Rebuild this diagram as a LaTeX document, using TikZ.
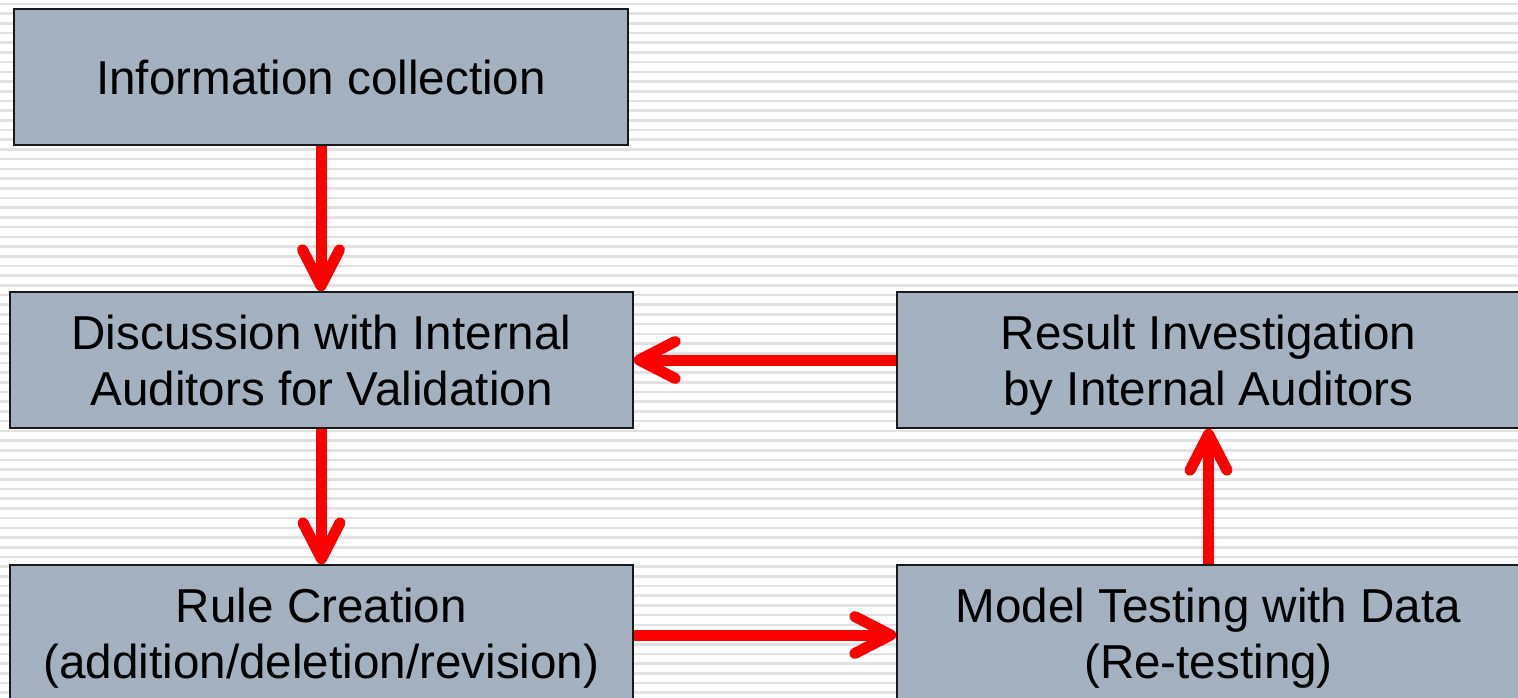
\documentclass[tikz,border=0pt]{standalone}
\usepackage{fontspec}
\setmainfont{Liberation Sans}
\usetikzlibrary{arrows.meta}
\definecolor{boxfill}{HTML}{A3B1C1}
\definecolor{stripe}{HTML}{E2E2E2}
\definecolor{arrred}{HTML}{FF0000}
\tikzset{
  box/.style={draw=black!90, line width=1.5pt, fill=boxfill, rectangle,
    minimum width=623pt, minimum height=136pt, align=center, inner sep=0pt,
    font=\fontsize{47.6}{56}\selectfont},
  flow/.style={draw=arrred, line width=11pt,
    -{Straight Barb[length=36pt,width=37pt,round]}}
}
\begin{document}
\begin{tikzpicture}[x=1pt,y=-1pt]
\useasboundingbox (0,0) rectangle (1518,698);
\clip (0,0) rectangle (1518,698);
\fill[white] (0,0) rectangle (1518,698);
\foreach \k in {0,...,72} {
  \draw[stripe, line width=2.6pt] (0,{4+9.7*\k}) -- (1518,{4+9.7*\k});
}
\node[box, minimum width=614pt] (b1) at (321,77) {Information collection};
\node[box] (b2) at (321.5,360) {Discussion with Internal\\Auditors for Validation};
\node[box] (b3) at (1208.5,360) {Result Investigation\\\smash{by Internal Auditors}};
\node[box] (b4) at (321.5,633) {Rule Creation\\\smash{(addition/deletion/revision)}};
\node[box] (b5) at (1208.5,633) {Model Testing with Data\\\smash{(Re-testing)}};
\draw[flow] (b1.south) -- (b1.south |- b2.north);
\draw[flow] (b2.south) -- (b4.north);
\draw[flow] (b3.west) -- (b2.east);
\draw[flow] ([yshift=-2pt]b4.east) -- ([yshift=-2pt]b5.west);
\draw[flow] (b5.north) -- (b3.south);
\end{tikzpicture}
\end{document}
